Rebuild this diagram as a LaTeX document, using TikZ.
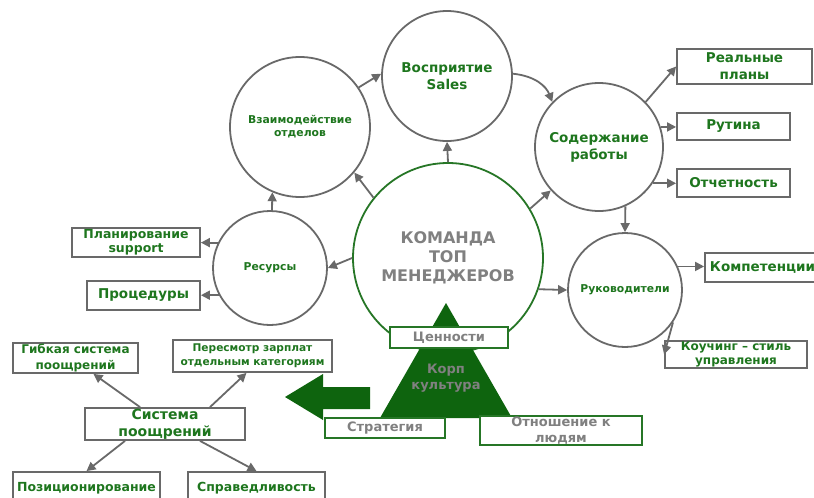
\documentclass[tikz,border=0pt]{standalone}
\usepackage{fontspec}
\setmainfont{DejaVu Sans}
\usetikzlibrary{arrows.meta}
\definecolor{tg}{RGB}{30,118,30}
\definecolor{lg}{RGB}{105,105,105}
\definecolor{cg}{RGB}{38,118,38}
\definecolor{dg}{RGB}{14,100,14}
\definecolor{tx}{RGB}{128,128,128}
\begin{document}
\begin{tikzpicture}[x=1pt,y=-1pt,
 fs/.style 2 args={font=\bfseries\fontsize{#1}{#2}\selectfont},
 circ/.style={circle,draw=lg,line width=1.8pt,fill=white,inner sep=0pt,align=center,text=tg},
 box/.style={rectangle,draw=lg,line width=1.8pt,fill=white,inner sep=0pt,align=center,text=tg},
 gbox/.style={box,draw=cg,text=tx},
 arr/.style={draw=lg,line width=1.8pt,-{Triangle[length=9pt,width=9pt]}}]
\clip (0,0) rectangle (814,498);
\fill[white] (0,0) rectangle (814,498);
% circles
\node[circ,draw=cg,minimum size=190pt,text=tx,fs={16}{19}] (team) at (448,258) {КОМАНДА\\ТОП\\МЕНЕДЖЕРОВ};
\node[circ,minimum size=130pt,fs={13.5}{17}] (vos) at (447,76) {Восприятие\\Sales};
\node[circ,minimum size=140pt,fs={10.8}{13}] (vz) at (300,127) {Взаимодействие\\отделов};
\node[circ,minimum size=128pt,fs={13.5}{17}] (sod) at (599,147) {Содержание\\работы};
\node[circ,minimum size=114pt,fs={10.8}{13}] (res) at (270,268) {Ресурсы};
\node[circ,minimum size=114pt,fs={10.8}{13}] (ruk) at (625,290) {Руководители};
% boxes
\node[box,minimum width=135pt,minimum height=35pt,fs={13.5}{17}] (real) at (744.5,66.5) {Реальные\\планы};
\node[box,minimum width=113pt,minimum height=27pt,fs={13.5}{17}] (rut) at (733.5,126.5) {Рутина};
\node[box,minimum width=113pt,minimum height=28pt,fs={13.5}{17}] (otch) at (733.5,183) {Отчетность};
\node[box,minimum width=115pt,minimum height=29pt,fs={13.5}{17}] (komp) at (762.5,267.5) {Компетенции};
\node[box,minimum width=142pt,minimum height=27pt,fs={12}{14}] (kouch) at (736,354.5) {Коучинг – стиль\\управления};
\node[box,minimum width=128pt,minimum height=29pt,fs={12.5}{14}] (plan) at (136,242.5) {Планирование\\support};
\node[box,minimum width=113pt,minimum height=29pt,fs={13.5}{17}] (proc) at (143.5,295.5) {Процедуры};
\node[box,minimum width=125pt,minimum height=30pt,fs={12}{16}] (gib) at (75.5,358) {Гибкая система\\поощрений};
\node[box,minimum width=159pt,minimum height=32pt,fs={10.6}{14}] (per) at (252.5,356) {Пересмотр зарплат\\отдельным категориям};
\node[box,minimum width=160pt,minimum height=32pt,fs={14}{17}] (sys) at (165,424) {Система\\поощрений};
\node[box,minimum width=147pt,minimum height=32pt,fs={12.5}{15}] (poz) at (86.5,488) {Позиционирование};
\node[box,minimum width=137pt,minimum height=32pt,fs={12.5}{15}] (spr) at (256.5,488) {Справедливость};
% connectors
\draw[arr] (team.north) -- (vos.south);
\draw[arr] (team.141) -- (vz.320);
\draw[arr] (team.31) -- (sod.222);
\draw[arr] (team.180) -- (res.0);
\draw[arr] (team.341) -- (ruk.180);
\draw[arr] (res.88) -- (vz.247);
\draw[arr] (vz.34) -- (vos.178);
\draw[arr] (vos.2) .. controls (535,76) and (546,86) .. (sod.136);
\draw[arr] (sod.44) -- (real.west);
\draw[arr] (sod.18) -- (sod.18 -| rut.west);
\draw[arr] (sod.-34) -- (sod.-34 -| otch.west);
\draw[arr] (sod.294) -- (ruk.90);
\draw[arr] (ruk.24) -- (ruk.24 -| komp.west);
\draw[arr] (ruk.-34) -- (kouch.west);
\draw[arr] (res.154) -- (res.154 -| plan.east);
\draw[arr] (res.208) -- (res.208 -| proc.east);
\draw[arr] ([xshift=-25pt]sys.north) -- ([xshift=18pt]gib.south);
\draw[arr] ([xshift=45pt]sys.north) -- ([xshift=-6pt]per.south);
\draw[arr] ([xshift=-40pt]sys.south) -- (poz.north);
\draw[arr] ([xshift=35pt]sys.south) -- (spr.north);
% big green arrow
\fill[dg] (370,387) -- (323,387) -- (323,374) -- (285,397) -- (323,420) -- (323,409) -- (370,409) -- cycle;
% triangle
\fill[dg] (446,303) -- (512,418) -- (380,418) -- cycle;
\node[text=tx,align=center,fs={13}{16}] (korp) at (446,378) {Корп\\культура};
\node[gbox,minimum width=118pt,minimum height=21pt,fs={13}{16}] (cen) at (449,337.5) {Ценности};
\node[gbox,minimum width=120pt,minimum height=20pt,fs={13}{16}] (strat) at (385,428) {Стратегия};
\node[gbox,minimum width=162pt,minimum height=29pt,fs={13}{16}] (otn) at (561,430.5) {Отношение к\\людям};
\end{tikzpicture}
\end{document}
